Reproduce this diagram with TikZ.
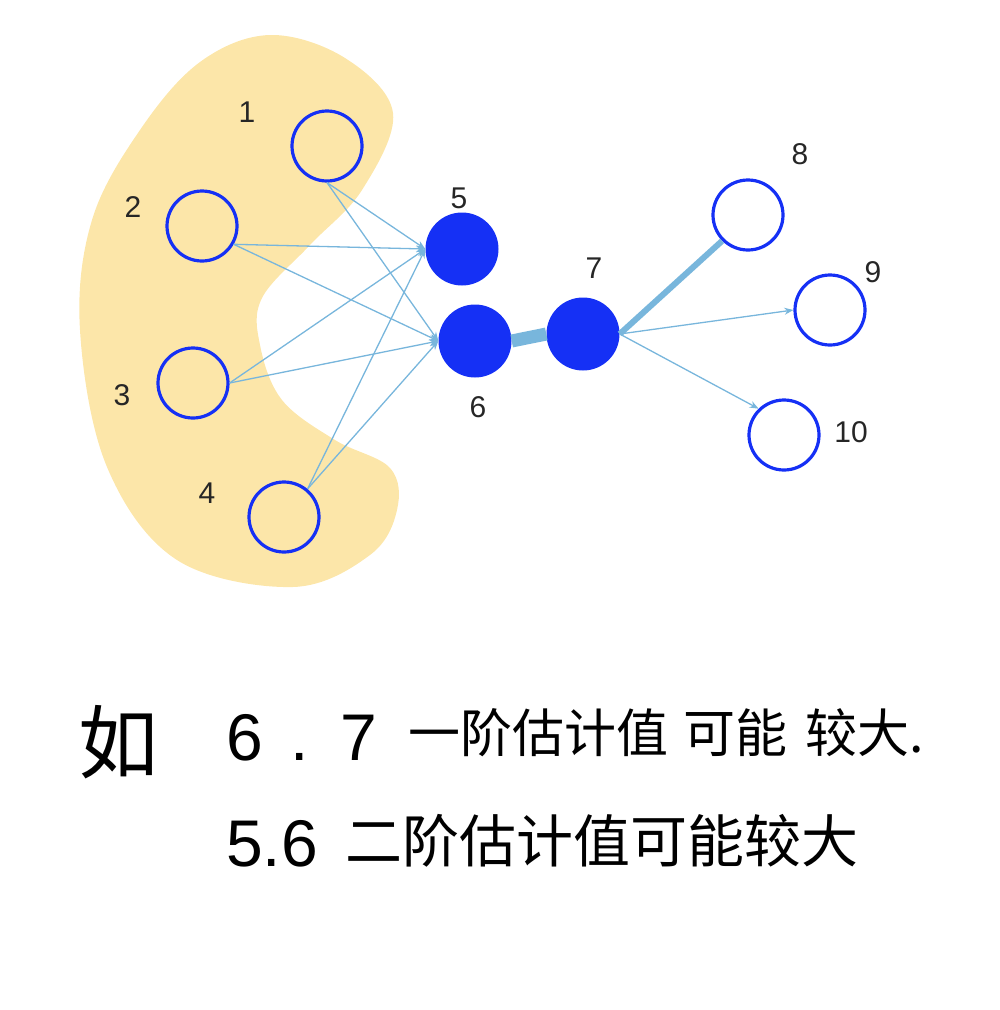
\documentclass[tikz,border=0pt]{standalone}
\usepackage{fontspec}
\setmainfont{Liberation Sans}
\newfontfamily\cjk{Noto Sans CJK SC}
\usetikzlibrary{arrows.meta}
\definecolor{blobc}{HTML}{FCE6A9}
\definecolor{nodeb}{HTML}{1530F5}
\definecolor{edgec}{HTML}{78B6DC}
\tikzset{
  hollow/.style={circle, draw=nodeb, line width=3.2pt, minimum size=70pt, inner sep=0pt},
  solid/.style={circle, fill=nodeb, minimum size=73pt, inner sep=0pt},
  lbl/.style={font=\fontsize{30}{30}\selectfont, text=black!85},
  edge/.style={draw=edgec, line width=1.3pt},
  aedge/.style={edge, -{Stealth[length=9pt,width=7pt]}},
  hand/.style={font=\cjk\fontsize{52}{52}\selectfont, anchor=base west, inner sep=0pt},
  handb/.style={font=\cjk\fontsize{57}{57}\selectfont, anchor=base west, inner sep=0pt},
  handdig/.style={font=\fontsize{66}{66}\selectfont, anchor=base west, inner sep=0pt}
}
\begin{document}
\begin{tikzpicture}[x=1pt,y=-1pt]
\useasboundingbox (0,0) rectangle (1000,1010);
% blob
\fill[blobc] plot[smooth cycle, tension=0.6] coordinates {
 (270,35) (345,58) (393,113) (362,190) (310,245) (262,298) (260,345) (282,400)
 (335,440) (390,468) (397,510) (370,555) (293,587) (177,560) (107,467) (80,330)
 (92,220) (140,130) (200,62)};
% nodes
\node[hollow] (n1) at (327,146) {};
\node[hollow] (n2) at (202,226) {};
\node[hollow] (n3) at (193,383) {};
\node[hollow] (n4) at (284,517) {};
\node[solid] (n5) at (462,249) {};
\node[solid] (n6) at (475,341) {};
\node[solid] (n7) at (583,334) {};
\node[hollow] (n8) at (748,215) {};
\node[hollow] (n9) at (830,310) {};
\node[hollow] (n10) at (784,435) {};
% labels
\node[lbl] (l1) at (247,112) {1};
\node[lbl] (l2) at (133,207) {2};
\node[lbl] (l3) at (122,395) {3};
\node[lbl] (l4) at (207,493) {4};
\node[lbl] (l5) at (459,198) {5};
\node[lbl] (l6) at (478,407) {6};
\node[lbl] (l7) at (594,268) {7};
\node[lbl] (l8) at (800,154) {8};
\node[lbl] (l9) at (873,272) {9};
\node[lbl] (l10) at (851,432) {10};
% edges
\draw[aedge] (n1.south) -- (n5.west);
\draw[aedge] (n1.south) -- (n6.west);
\draw[aedge] (n2.-30) -- (n5.west);
\draw[aedge] (n2.-30) -- (n6.west);
\draw[aedge] (n3.east) -- (n5.west);
\draw[aedge] (n3.east) -- (n6.west);
\draw[aedge] (n4.50) -- (n5.west);
\draw[aedge] (n4.50) -- (n6.west);
\draw[edge, line width=13pt] (n6.east) -- (n7.west);
\draw[edge, line width=6pt] (n7.east) -- (n8.225);
\draw[aedge] (n7.east) -- (n9.west);
\draw[aedge] (n7.east) -- (n10.134);
% handwritten notes
\node[font=\cjk\fontsize{80}{80}\selectfont, anchor=base west, inner sep=0pt] (h1) at (78,772) {如};
\node[handdig] (h2) at (226,760) {6};
\node[handdig] (h3) at (290,760) {.};
\node[handdig] (h4) at (340,760) {7};
\node[hand] (h5) at (408,752) {一阶估计值};
\node[hand] (h6) at (683,752) {可能};
\node[hand] (h7) at (805,752) {较大.};
\node[handdig] (h8) at (226,866) {5.6};
\node[handb] (h9) at (345,862) {二阶估计值可能较大};
\end{tikzpicture}
\end{document}
